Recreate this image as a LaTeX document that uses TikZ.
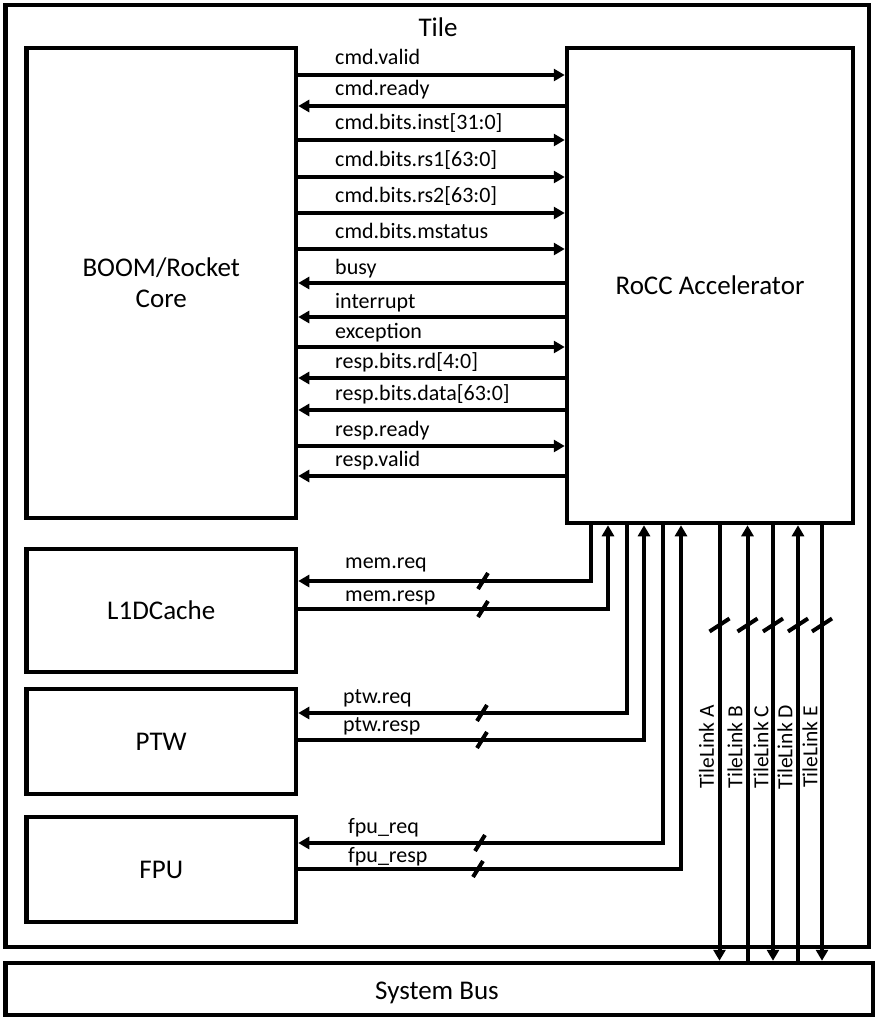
\documentclass[tikz,border=0pt]{standalone}
\usepackage{fontspec}
\setmainfont{Carlito}
\usetikzlibrary{arrows.meta, positioning}

\begin{document}
\begin{tikzpicture}[x=1pt, y=-1pt,
    blk/.style={draw, line width=4.5pt, inner sep=0pt, font=\fontsize{27}{31}\selectfont, align=center},
    sig/.style={line width=4pt},
    lbl/.style={font=\fontsize{22}{25}\selectfont, anchor=base west, inner sep=0pt},
    tl/.style={font=\fontsize{21.5}{24}\selectfont, rotate=90, inner sep=0pt},
    slash/.style={line width=4pt},
    >={Triangle[length=11pt, width=12pt]}]
    \fill[white] (0,0) rectangle (876,1020);
    \useasboundingbox (0,0) rectangle (876,1020);

    % Blocks
    \node[blk, minimum width=863.5pt, minimum height=942pt] (tile) at (437.25,476) {};
    \node[font=\fontsize{27}{31}\selectfont] (tiletitle) at (438,27) {Tile};
    \node[blk, minimum width=867.5pt, minimum height=52pt] (bus) at (439.25,989) {};
    \node[font=\fontsize{27}{31}\selectfont] (bustitle) at (437,993) {System Bus};
    \node[blk, minimum width=269.5pt, minimum height=470pt] (boom) at (161.25,283) {BOOM/Rocket\\Core};
    \node[blk, minimum width=286pt, minimum height=475pt] (rocc) at (710,285.5) {RoCC Accelerator};
    \node[blk, minimum width=269.5pt, minimum height=123pt] (l1d) at (161.25,610.5) {L1DCache};
    \node[blk, minimum width=269.5pt, minimum height=105pt] (ptw) at (161.25,741.5) {PTW};
    \node[blk, minimum width=269.5pt, minimum height=105pt] (fpu) at (161.25,869.5) {FPU};

    % Command interface
    \draw[sig, ->] (boom.east |- 0,75) -- (rocc.west |- 0,75);
    \node[lbl] (lvalid) at (335,64) {cmd.valid};
    \draw[sig, ->] (rocc.west |- 0,106) -- (boom.east |- 0,106);
    \node[lbl] (lready) at (335,95) {cmd.ready};
    \draw[sig, ->] (boom.east |- 0,140) -- (rocc.west |- 0,140);
    \node[lbl] (linst) at (335,129) {cmd.bits.inst[31:0]};
    \draw[sig, ->] (boom.east |- 0,177) -- (rocc.west |- 0,177);
    \node[lbl] (lrsa) at (335,166) {cmd.bits.rs1[63:0]};
    \draw[sig, ->] (boom.east |- 0,213) -- (rocc.west |- 0,213);
    \node[lbl] (lrsb) at (335,202) {cmd.bits.rs2[63:0]};
    \draw[sig, ->] (boom.east |- 0,249) -- (rocc.west |- 0,249);
    \node[lbl] (lmst) at (335,238) {cmd.bits.mstatus};

    % Status
    \draw[sig, ->] (rocc.west |- 0,283) -- (boom.east |- 0,283);
    \node[lbl] (lbusy) at (335,274) {busy};
    \draw[sig, ->] (rocc.west |- 0,317) -- (boom.east |- 0,317);
    \node[lbl] (lint) at (335,308) {interrupt};
    \draw[sig, ->] (boom.east |- 0,347) -- (rocc.west |- 0,347);
    \node[lbl] (lexc) at (335,338) {exception};

    % Response interface
    \draw[sig, ->] (rocc.west |- 0,378) -- (boom.east |- 0,378);
    \node[lbl] (lrd) at (335,368) {resp.bits.rd[4:0]};
    \draw[sig, ->] (rocc.west |- 0,410) -- (boom.east |- 0,410);
    \node[lbl] (ldata) at (335,400) {resp.bits.data[63:0]};
    \draw[sig, ->] (boom.east |- 0,446) -- (rocc.west |- 0,446);
    \node[lbl] (lrready) at (335,436) {resp.ready};
    \draw[sig, ->] (rocc.west |- 0,476) -- (boom.east |- 0,476);
    \node[lbl] (lrvalid) at (335,466) {resp.valid};

    % Memory
    \draw[sig, ->] (rocc.south -| 591,0) |- (l1d.east |- 0,581);
    \draw[sig, ->] (l1d.east |- 0,609) -| (rocc.south -| 608,0);
    \node[lbl] (lmreq) at (345,568) {mem.req};
    \draw[slash] (483,581) ++(-5,8) -- ++(10,-16);
    \node[lbl] (lmresp) at (345,601) {mem.resp};
    \draw[slash] (483,609) ++(-5,8) -- ++(10,-16);

    % PTW
    \draw[sig, ->] (rocc.south -| 627,0) |- (ptw.east |- 0,713);
    \draw[sig, ->] (ptw.east |- 0,740) -| (rocc.south -| 644,0);
    \node[lbl] (lpreq) at (343,703) {ptw.req};
    \draw[slash] (482,713) ++(-5,8) -- ++(10,-16);
    \node[lbl] (lpresp) at (343,731) {ptw.resp};
    \draw[slash] (482,740) ++(-5,8) -- ++(10,-16);

    % FPU
    \draw[sig, ->] (rocc.south -| 663,0) |- (fpu.east |- 0,843);
    \draw[sig, ->] (fpu.east |- 0,869) -| (rocc.south -| 681,0);
    \node[lbl] (lfreq) at (348,833) {fpu\_req};
    \draw[slash] (480,843) ++(-5,8) -- ++(10,-16);
    \node[lbl] (lfresp) at (348,862) {fpu\_resp};
    \draw[slash] (478,869) ++(-5,8) -- ++(10,-16);

    % TileLink
    \draw[sig, ->] (rocc.south -| 719.5,0) -- (bus.north -| 719.5,0);
    \node[tl] (tla) at (706.5,747) {TileLink A};
    \draw[slash] (719.5,625) ++(-10,6.5) -- ++(20,-13);
    \draw[sig, ->] (bus.north -| 747.5,0) -- (rocc.south -| 747.5,0);
    \node[tl] (tlb) at (735,747) {TileLink B};
    \draw[slash] (747.5,625) ++(-10,6.5) -- ++(20,-13);
    \draw[sig, ->] (rocc.south -| 773,0) -- (bus.north -| 773,0);
    \node[tl] (tlc) at (761,747) {TileLink C};
    \draw[slash] (773,625) ++(-10,6.5) -- ++(20,-13);
    \draw[sig, ->] (bus.north -| 798,0) -- (rocc.south -| 798,0);
    \node[tl] (tld) at (785,747) {TileLink D};
    \draw[slash] (798,625) ++(-10,6.5) -- ++(20,-13);
    \draw[sig, ->] (rocc.south -| 822,0) -- (bus.north -| 822,0);
    \node[tl] (tle) at (810,747) {TileLink E};
    \draw[slash] (822,625) ++(-10,6.5) -- ++(20,-13);
\end{tikzpicture}
\end{document}
